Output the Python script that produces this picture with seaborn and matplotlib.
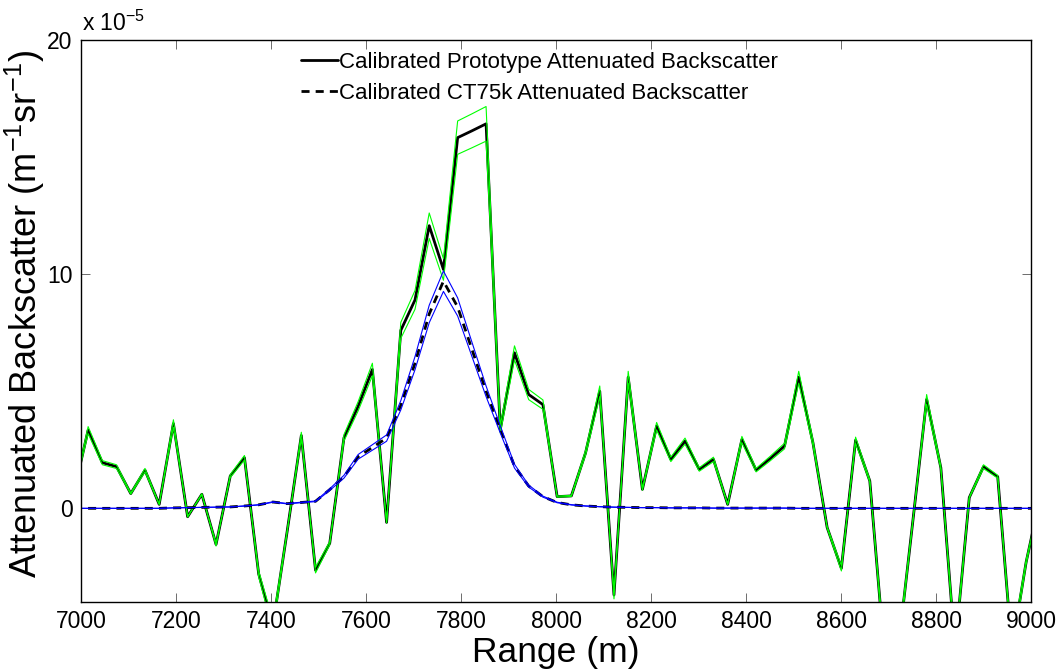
import numpy as np
import pandas as pd
import matplotlib
matplotlib.use("Agg")
import matplotlib.pyplot as plt
import seaborn as sns

# Range gates (m)
range_start = 6985.1
gate_spacing = 29.92
n_gates = 69
range_m = range_start + gate_spacing * np.arange(n_gates)

# Attenuated backscatter, in units of 1e-5 m^-1 sr^-1
prototype = [
    0.7, 3.34, 1.95, 1.78, 0.63, 1.63, 0.17, 3.62, -0.36, 0.6,
    -1.54, 1.38, 2.16, -2.8, -5.0, -1.0, 3.11, -2.64, -1.49, 3.01,
    4.36, 5.93, -0.6, 7.6, 8.9, 12.07, 10.2, 15.83, 16.12, 16.42,
    3.37, 6.64, 4.86, 4.43, 0.5, 0.53, 2.37, 5.0, -3.7, 5.6,
    0.81, 3.51, 2.09, 2.87, 1.66, 2.09, 0.17, 2.94, 1.63, 2.13,
    2.66, 5.6, 2.8, -0.82, -2.56, 2.91, 1.17, -6.0, -6.0, -0.7,
    4.65, 1.73, -6.0, 0.46, 1.78, 1.35, -6.0, -2.3, 0.5,
]
ct75k = [
    0.0, 0.0, 0.0, 0.0, 0.0, 0.0, 0.0, 0.02, 0.03, 0.04,
    0.05, 0.06, 0.1, 0.15, 0.27, 0.2, 0.25, 0.3, 0.8, 1.35,
    2.2, 2.6, 3.0, 4.4, 6.2, 8.3, 9.7, 8.6, 6.8, 5.0,
    3.37, 1.8, 0.95, 0.5, 0.25, 0.15, 0.1, 0.07, 0.05, 0.04,
    0.03, 0.03, 0.02, 0.02, 0.02, 0.01, 0.01, 0.01, 0.01, 0.01,
    0.01, 0.0, 0.0, 0.0, 0.0, 0.0, 0.0, 0.0, 0.0, 0.0,
    0.0, 0.0, 0.0, 0.0, 0.0, 0.0, 0.0, 0.0, 0.0,
]
# Relative calibration uncertainty for both instruments
calib_uncertainty = 0.045

legend_labels = [
    "Calibrated Prototype Attenuated Backscatter",
    "Calibrated CT75k Attenuated Backscatter",
]
x_ticks = list(range(7000, 9001, 200))
y_ticks = [0, 10, 20]

proto = np.array(prototype)
ct = np.array(ct75k)
df = pd.DataFrame({
    "range": range_m,
    "proto": proto,
    "proto_hi": proto * (1 + calib_uncertainty),
    "proto_lo": proto * (1 - calib_uncertainty),
    "ct": ct,
    "ct_hi": ct * (1 + calib_uncertainty),
    "ct_lo": ct * (1 - calib_uncertainty),
})

sns.set_theme(style="ticks")
plt.rcParams["font.family"] = ["Liberation Sans", "DejaVu Sans"]
plt.rcParams["mathtext.fontset"] = "custom"
plt.rcParams["mathtext.rm"] = "Liberation Sans"
plt.rcParams["mathtext.it"] = "Liberation Sans:italic"
plt.rcParams["mathtext.bf"] = "Liberation Sans:bold"
plt.rcParams["text.color"] = "black"
plt.rcParams["axes.labelcolor"] = "black"
plt.rcParams["xtick.labelcolor"] = "black"
plt.rcParams["ytick.labelcolor"] = "black"

DASH = (2.9, 2.2)

fig = plt.figure(figsize=(10.62, 6.70), dpi=100)
ax = fig.add_axes([81 / 1062, 1 - 602 / 670, 950 / 1062, 562 / 670])

sns.lineplot(data=df, x="range", y="proto", color="black", lw=2.0,
             label=legend_labels[0], ax=ax, sort=False)
sns.lineplot(data=df, x="range", y="proto_hi", color=(0, 1, 0), lw=0.8,
             legend=False, ax=ax, sort=False)
sns.lineplot(data=df, x="range", y="proto_lo", color=(0, 1, 0), lw=0.8,
             legend=False, ax=ax, sort=False)
sns.lineplot(data=df, x="range", y="ct", color="black", lw=2.0,
             label=legend_labels[1], ax=ax, sort=False)
ax.lines[-1].set_dashes(DASH)
sns.lineplot(data=df, x="range", y="ct_hi", color=(0, 0, 1), lw=0.8,
             legend=False, ax=ax, sort=False)
sns.lineplot(data=df, x="range", y="ct_lo", color=(0, 0, 1), lw=0.8,
             legend=False, ax=ax, sort=False)

ax.set_xlim(7000, 9000)
ax.set_ylim(-4, 20)
ax.set_xticks(x_ticks)
ax.set_yticks(y_ticks)
ax.tick_params(direction="in", length=6.5, width=0.6, color="#555555",
               top=True, right=True, labelsize=16.5, pad=6)
for s in ax.spines.values():
    s.set_visible(True)
    s.set_linewidth(1.0)
    s.set_color("black")

ax.set_xlabel("Range (m)", fontsize=25.5, labelpad=2)
ax.set_ylabel(r"Attenuated Backscatter (m$^{-1}$sr$^{-1}$)", fontsize=26)
ax.yaxis.set_label_coords(-0.036, 0.512)

ax.text(0.001, 1.008, r"x 10$^{-5}$", transform=ax.transAxes,
        ha="left", va="bottom", fontsize=16.5)

leg = ax.legend(loc="upper left", bbox_to_anchor=(301 / 1062, 1 - 52 / 670),
                bbox_transform=fig.transFigure, frameon=False, fontsize=16,
                handlelength=1.65, handletextpad=0.08, labelspacing=0.46,
                borderpad=0, borderaxespad=0)
leg.get_lines()[1].set_dashes(DASH)

fig.savefig("out.png", dpi=100)
